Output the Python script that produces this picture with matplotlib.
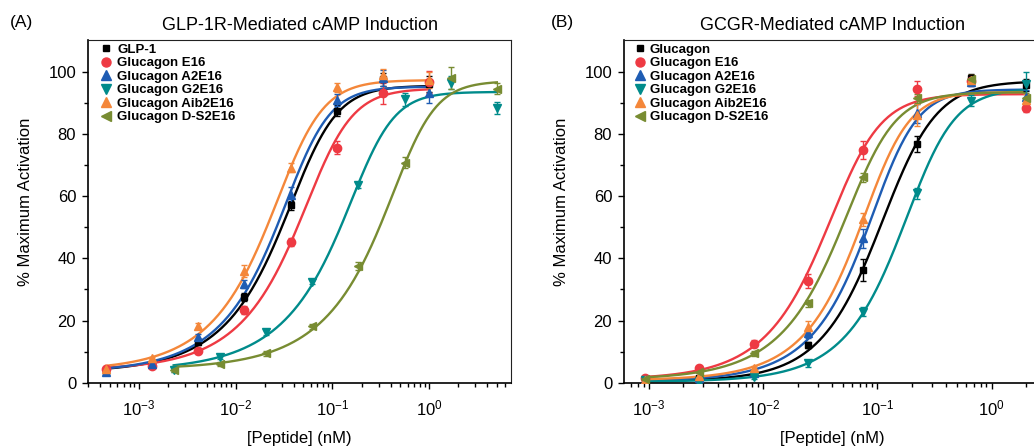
import matplotlib

matplotlib.use("Agg")
import matplotlib.pyplot as plt
import numpy as np
from matplotlib.lines import Line2D
from matplotlib.ticker import LogLocator, MultipleLocator, NullFormatter

plt.rcParams.update(
    {
        "font.family": ["Liberation Sans", "DejaVu Sans"],
        "axes.titlesize": 13,
        "axes.labelsize": 12,
        "xtick.labelsize": 12,
        "ytick.labelsize": 12,
    }
)

# Series names, colours and markers (same order in both panels)
SERIES_A = ["GLP-1", "Glucagon E16", "Glucagon A2E16", "Glucagon G2E16",
            "Glucagon Aib2E16", "Glucagon D-S2E16"]
SERIES_B = ["Glucagon", "Glucagon E16", "Glucagon A2E16", "Glucagon G2E16",
            "Glucagon Aib2E16", "Glucagon D-S2E16"]
COLORS = ["#000000", "#EE3A43", "#1E5CB3", "#008B8B", "#F4873A", "#788C32"]
MARKERS = ["s", "o", "^", "v", "^", "<"]

# ---- Panel A: GLP-1R ----
conc_a_low = [0.000457, 0.00137, 0.00412, 0.0123, 0.037, 0.111, 0.333, 1.0]
conc_a_high = [0.00229, 0.00686, 0.0206, 0.0617, 0.185, 0.556, 1.667, 5.0]

a_glp1 = [3.5, 6.0, 13.0, 27.5, 57.0, 87.5, 97.5, 96.0]
a_e16 = [4.5, 5.5, 10.2, 23.4, 45.3, 75.6, 93.0, 96.8]
a_a2e16 = [3.5, 6.0, 14.8, 31.7, 60.3, 90.9, 97.9, 93.0]
a_g2e16 = [4.1, 8.4, 16.2, 32.5, 63.6, 91.1, 96.5, 88.4]
a_aib2e16 = [4.5, 7.8, 18.2, 36.0, 69.2, 95.0, 98.9, 97.3]
a_ds2e16 = [4.1, 6.0, 9.4, 18.2, 37.5, 70.7, 97.9, 94.6]

a_err_glp1 = [0.8, 0.5, 1.0, 1.2, 1.5, 1.8, 2.0, 2.5]
a_err_e16 = [0.8, 0.6, 0.8, 1.2, 1.2, 2.0, 3.5, 3.5]
a_err_a2e16 = [0.6, 0.6, 1.0, 1.2, 2.5, 1.8, 2.5, 3.0]
a_err_g2e16 = [0.6, 0.8, 0.8, 0.8, 1.0, 2.0, 2.0, 2.0]
a_err_aib2e16 = [0.6, 0.6, 1.0, 2.0, 1.5, 1.5, 2.0, 2.5]
a_err_ds2e16 = [0.8, 0.6, 0.8, 0.8, 1.2, 1.8, 3.5, 1.8]

# fitted curves (5PL): bottom, top, logC, hill slope, asymmetry
a_fits = [
    (3.3, 95.5, -1.25, 2.0, 0.45),
    (4.0, 94.6, -1.09, 2.0, 0.45),
    (3.3, 95.2, -1.30, 2.1, 0.43),
    (3.8, 93.5, -0.61, 2.2, 0.38),
    (3.8, 97.3, -1.39, 2.0, 0.45),
    (4.3, 97.0, -0.18, 2.2, 0.38),
]

# ---- Panel B: GCGR ----
conc_b = [0.000914, 0.00274, 0.00823, 0.0247, 0.0741, 0.222, 0.667, 2.0]

b_gcg = [1.0, 1.5, 3.0, 12.1, 36.2, 76.7, 97.9, 95.7]
b_e16 = [1.4, 4.6, 12.6, 32.8, 74.8, 94.6, 97.0, 88.4]
b_a2e16 = [1.0, 1.5, 3.0, 15.9, 46.4, 86.6, 96.8, 92.0]
b_g2e16 = [1.0, 0.5, 1.9, 6.2, 22.8, 60.9, 90.7, 96.0]
b_aib2e16 = [1.0, 2.0, 4.6, 18.0, 52.5, 86.0, 97.3, 90.9]
b_ds2e16 = [1.2, 3.5, 9.4, 25.5, 66.0, 91.4, 97.5, 91.4]

b_err_gcg = [0.5, 0.5, 0.8, 1.0, 3.5, 2.5, 1.5, 2.0]
b_err_e16 = [0.5, 0.6, 1.2, 2.2, 3.0, 2.5, 1.5, 1.5]
b_err_a2e16 = [0.5, 0.5, 0.8, 1.5, 3.0, 3.0, 1.5, 2.0]
b_err_g2e16 = [0.5, 0.5, 0.8, 1.0, 1.5, 1.8, 1.8, 4.0]
b_err_aib2e16 = [0.5, 0.5, 0.8, 2.0, 2.0, 3.5, 1.5, 2.0]
b_err_ds2e16 = [0.5, 0.5, 0.8, 1.0, 1.5, 1.5, 1.5, 1.8]

b_fits = [
    (0.5, 97.0, -0.87, 1.9, 0.7),
    (1.0, 92.8, -1.28, 2.1, 0.55),
    (0.5, 94.3, -0.91, 2.4, 0.5),
    (0.3, 94.6, -0.62, 2.2, 0.55),
    (0.8, 93.5, -0.98, 2.4, 0.5),
    (1.0, 93.4, -1.125, 2.2, 0.5),
]

FIG_W, FIG_H = 1034, 448


def five_pl(x, bottom, top, log_c, hill, asym):
    z = 10 ** ((log_c - np.log10(x)) * hill)
    return bottom + (top - bottom) / (1 + z) ** asym


def draw_panel(ax, names, concs, values, errors, fits, xlim, legend_x, textpad):
    for i, name in enumerate(names):
        x = np.array(concs[i])
        xs = np.logspace(np.log10(x.min()), np.log10(x.max()), 300)
        ax.plot(xs, five_pl(xs, *fits[i]), color=COLORS[i], lw=1.7, zorder=2)
        ms = 5 if MARKERS[i] == "s" else 6
        ax.errorbar(x, values[i], yerr=errors[i], fmt=MARKERS[i], color=COLORS[i],
                    ms=ms, elinewidth=1.0, capsize=2.5, capthick=1.0, zorder=3)

    ax.set_xscale("log")
    ax.set_xlim(*xlim)
    ax.set_ylim(0, 110.2)
    ax.yaxis.set_major_locator(MultipleLocator(20))
    ax.set_yticks([10, 30, 50, 70, 90], minor=True)
    ax.xaxis.set_major_locator(LogLocator(base=10, numticks=10))
    ax.xaxis.set_minor_locator(LogLocator(base=10, subs=np.arange(2, 10), numticks=20))
    ax.xaxis.set_minor_formatter(NullFormatter())
    ax.tick_params(which="major", direction="out", length=4.5, width=1.0)
    ax.tick_params(which="minor", direction="out", length=2.8, width=1.0)
    ax.tick_params(axis="x", which="major", pad=7)
    ax.tick_params(axis="y", which="major", pad=4)

    for side in ["left", "bottom"]:
        ax.spines[side].set_linewidth(1.2)
    for side in ["top", "right"]:
        ax.spines[side].set_linewidth(0.8)
        ax.spines[side].set_color("#222222")

    ax.set_xlabel("[Peptide] (nM)")
    ax.set_ylabel("% Maximum Activation")

    handles = [
        Line2D([], [], ls="none", marker=MARKERS[i], color=COLORS[i],
               ms=5 if MARKERS[i] == "s" else 6.5)
        for i in range(len(names))
    ]
    ax.legend(handles, names, loc="upper left", bbox_to_anchor=(legend_x, 0.99),
              frameon=False, borderpad=0, borderaxespad=0, handlelength=0.8,
              handletextpad=textpad, labelspacing=0.1,
              prop={"weight": "bold", "size": 9.5})


fig = plt.figure(figsize=(FIG_W / 100, FIG_H / 100), dpi=100)

bottom = 1 - 382.7 / FIG_H
height = (382.7 - 40) / FIG_H
ax_a = fig.add_axes([88 / FIG_W, bottom, (511 - 88) / FIG_W, height])
ax_b = fig.add_axes([624 / FIG_W, bottom, (1040 - 624) / FIG_W, height])

draw_panel(
    ax_a,
    SERIES_A,
    [conc_a_low, conc_a_low, conc_a_low, conc_a_high, conc_a_low, conc_a_high],
    [a_glp1, a_e16, a_a2e16, a_g2e16, a_aib2e16, a_ds2e16],
    [a_err_glp1, a_err_e16, a_err_a2e16, a_err_g2e16, a_err_aib2e16, a_err_ds2e16],
    a_fits,
    (10 ** -3.526, 10 ** 0.845),
    0.030,
    0.45,
)
draw_panel(
    ax_b,
    SERIES_B,
    [conc_b] * 6,
    [b_gcg, b_e16, b_a2e16, b_g2e16, b_aib2e16, b_ds2e16],
    [b_err_gcg, b_err_e16, b_err_a2e16, b_err_g2e16, b_err_aib2e16, b_err_ds2e16],
    b_fits,
    (10 ** -3.219, 10 ** 0.424),
    0.025,
    0.35,
)
ax_b.spines["right"].set_visible(False)

ax_a.set_title("GLP-1R-Mediated cAMP Induction", pad=7)
ax_b.set_title("GCGR-Mediated cAMP Induction", pad=7)
ax_a.yaxis.set_label_coords((33.5 - 88) / 423, 0.527)
ax_b.yaxis.set_label_coords((568.5 - 624) / 416, 0.527)
ax_a.xaxis.set_label_coords(0.5, -0.142)
ax_b.xaxis.set_label_coords(0.5, -0.142)

fig.text(10 / FIG_W, 1 - 22 / FIG_H, "(A)", fontsize=12.5, va="center", ha="left")
fig.text(551 / FIG_W, 1 - 22 / FIG_H, "(B)", fontsize=12.5, va="center", ha="left")

fig.savefig("out.png", dpi=100)
